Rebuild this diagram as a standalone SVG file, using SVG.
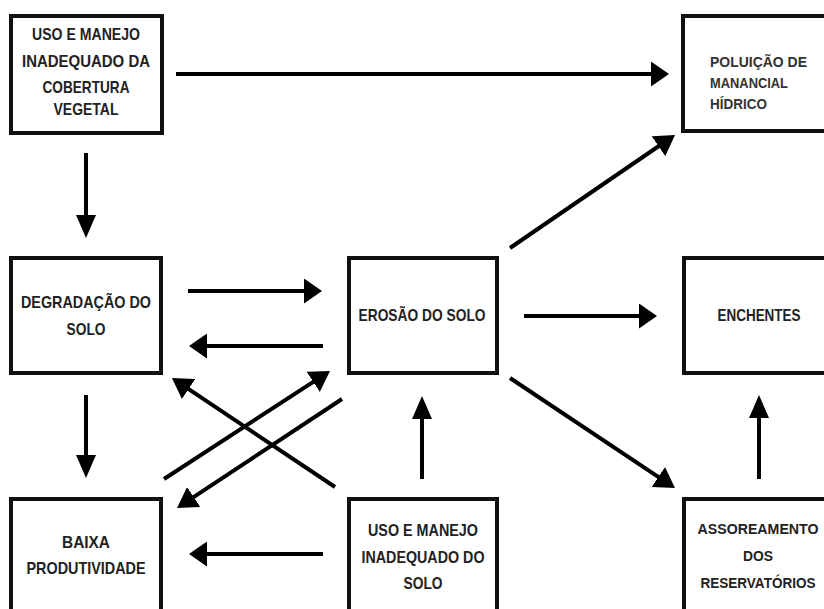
<svg xmlns="http://www.w3.org/2000/svg" width="824" height="609" viewBox="0 0 824 609">
<style>
.box{fill:#fff;stroke:#111;stroke-width:4}
.t{font-family:"Liberation Sans",Arial,sans-serif;font-weight:bold;font-size:17px;fill:#222;text-anchor:middle}
.ts{font-size:14.5px}
.tl{font-family:"Liberation Sans",Arial,sans-serif;font-weight:bold;font-size:15px;fill:#333}
.c line{stroke:#000;stroke-width:4;stroke-linecap:butt}
</style>
<defs>
<marker id="ah" markerUnits="userSpaceOnUse" markerWidth="18" markerHeight="25" refX="10" refY="12.5" orient="auto"><path d="M0,0 L18,12.5 L0,25 Z" fill="#000"/></marker>
<marker id="av" markerUnits="userSpaceOnUse" markerWidth="23" markerHeight="20" refX="15" refY="10" orient="auto"><path d="M0,0 L23,10 L0,20 Z" fill="#000"/></marker>
<marker id="ad" markerUnits="userSpaceOnUse" markerWidth="20" markerHeight="24" refX="12" refY="12" orient="auto"><path d="M0,0 L20,12 L0,24 Z" fill="#000"/></marker>
</defs>
<rect width="824" height="609" fill="#fff"/>

<g id="uso-cobertura">
<rect class="box" x="11" y="16" width="151" height="117"/>
<text class="t" x="86" y="39.5" textLength="108" lengthAdjust="spacingAndGlyphs">USO E MANEJO</text>
<text class="t" x="86" y="67" textLength="128" lengthAdjust="spacingAndGlyphs">INADEQUADO DA</text>
<text class="t" x="86" y="93" textLength="87" lengthAdjust="spacingAndGlyphs">COBERTURA</text>
<text class="t" x="86" y="115" textLength="65" lengthAdjust="spacingAndGlyphs">VEGETAL</text>
</g>
<g id="poluicao">
<path class="box" d="M824,16 H683 V131 H824"/>
<text class="tl" x="710" y="66.5" textLength="97" lengthAdjust="spacingAndGlyphs">POLUIÇÃO DE</text>
<text class="tl" x="710" y="88" textLength="78" lengthAdjust="spacingAndGlyphs">MANANCIAL</text>
<text class="tl" x="710" y="108.5" textLength="57" lengthAdjust="spacingAndGlyphs">HÍDRICO</text>
</g>
<g id="degradacao">
<rect class="box" x="11" y="258" width="150" height="115"/>
<text class="t" x="86" y="308" textLength="130" lengthAdjust="spacingAndGlyphs">DEGRADAÇÃO DO</text>
<text class="t" x="86" y="335" textLength="39" lengthAdjust="spacingAndGlyphs">SOLO</text>
</g>
<g id="erosao">
<rect class="box" x="349" y="258" width="148" height="115"/>
<text class="t" x="422" y="321" textLength="127" lengthAdjust="spacingAndGlyphs">EROSÃO DO SOLO</text>
</g>
<g id="enchentes">
<path class="box" d="M824,258 H684 V373 H824"/>
<text class="t" x="759" y="321" textLength="83" lengthAdjust="spacingAndGlyphs">ENCHENTES</text>
</g>
<g id="baixa">
<path class="box" d="M11,609 V499 H161 V609"/>
<text class="t" x="86" y="548" textLength="48" lengthAdjust="spacingAndGlyphs">BAIXA</text>
<text class="t" x="86" y="574" textLength="119" lengthAdjust="spacingAndGlyphs">PRODUTIVIDADE</text>
</g>
<g id="uso-solo">
<path class="box" d="M349,609 V499 H497 V609"/>
<text class="t" x="423" y="536" textLength="110" lengthAdjust="spacingAndGlyphs">USO E MANEJO</text>
<text class="t" x="423" y="562.5" textLength="123" lengthAdjust="spacingAndGlyphs">INADEQUADO DO</text>
<text class="t" x="423" y="589" textLength="39" lengthAdjust="spacingAndGlyphs">SOLO</text>
</g>
<g id="assoreamento">
<path class="box" d="M684,609 V499 H824"/>
<text class="t ts" x="758" y="533.5" textLength="121" lengthAdjust="spacingAndGlyphs">ASSOREAMENTO</text>
<text class="t ts" x="758" y="561" textLength="30" lengthAdjust="spacingAndGlyphs">DOS</text>
<text class="t ts" x="758" y="588" textLength="115" lengthAdjust="spacingAndGlyphs">RESERVATÓRIOS</text>
</g>

<g id="connectors" class="c">
<line x1="176" y1="74" x2="661" y2="74" marker-end="url(#ah)"/>
<line x1="86" y1="153" x2="86" y2="230" marker-end="url(#av)"/>
<line x1="188" y1="291" x2="314" y2="291" marker-end="url(#ah)"/>
<line x1="323" y1="346" x2="197" y2="346" marker-end="url(#ah)"/>
<line x1="86" y1="395" x2="86" y2="470" marker-end="url(#av)"/>
<line x1="164" y1="479" x2="323.3" y2="375.4" marker-end="url(#ad)"/>
<line x1="342" y1="399" x2="183.7" y2="503.6" marker-end="url(#ad)"/>
<line x1="335" y1="487" x2="178.6" y2="382.4" marker-end="url(#ad)"/>
<line x1="323" y1="554" x2="197" y2="554" marker-end="url(#ah)"/>
<line x1="422" y1="479" x2="422" y2="404" marker-end="url(#av)"/>
<line x1="524" y1="316" x2="649" y2="316" marker-end="url(#ah)"/>
<line x1="510" y1="378" x2="668.3" y2="483.6" marker-end="url(#ad)"/>
<line x1="759" y1="479" x2="759" y2="403" marker-end="url(#av)"/>
<line x1="510" y1="248" x2="668.4" y2="139.5" marker-end="url(#ad)"/>
</g>
</svg>
